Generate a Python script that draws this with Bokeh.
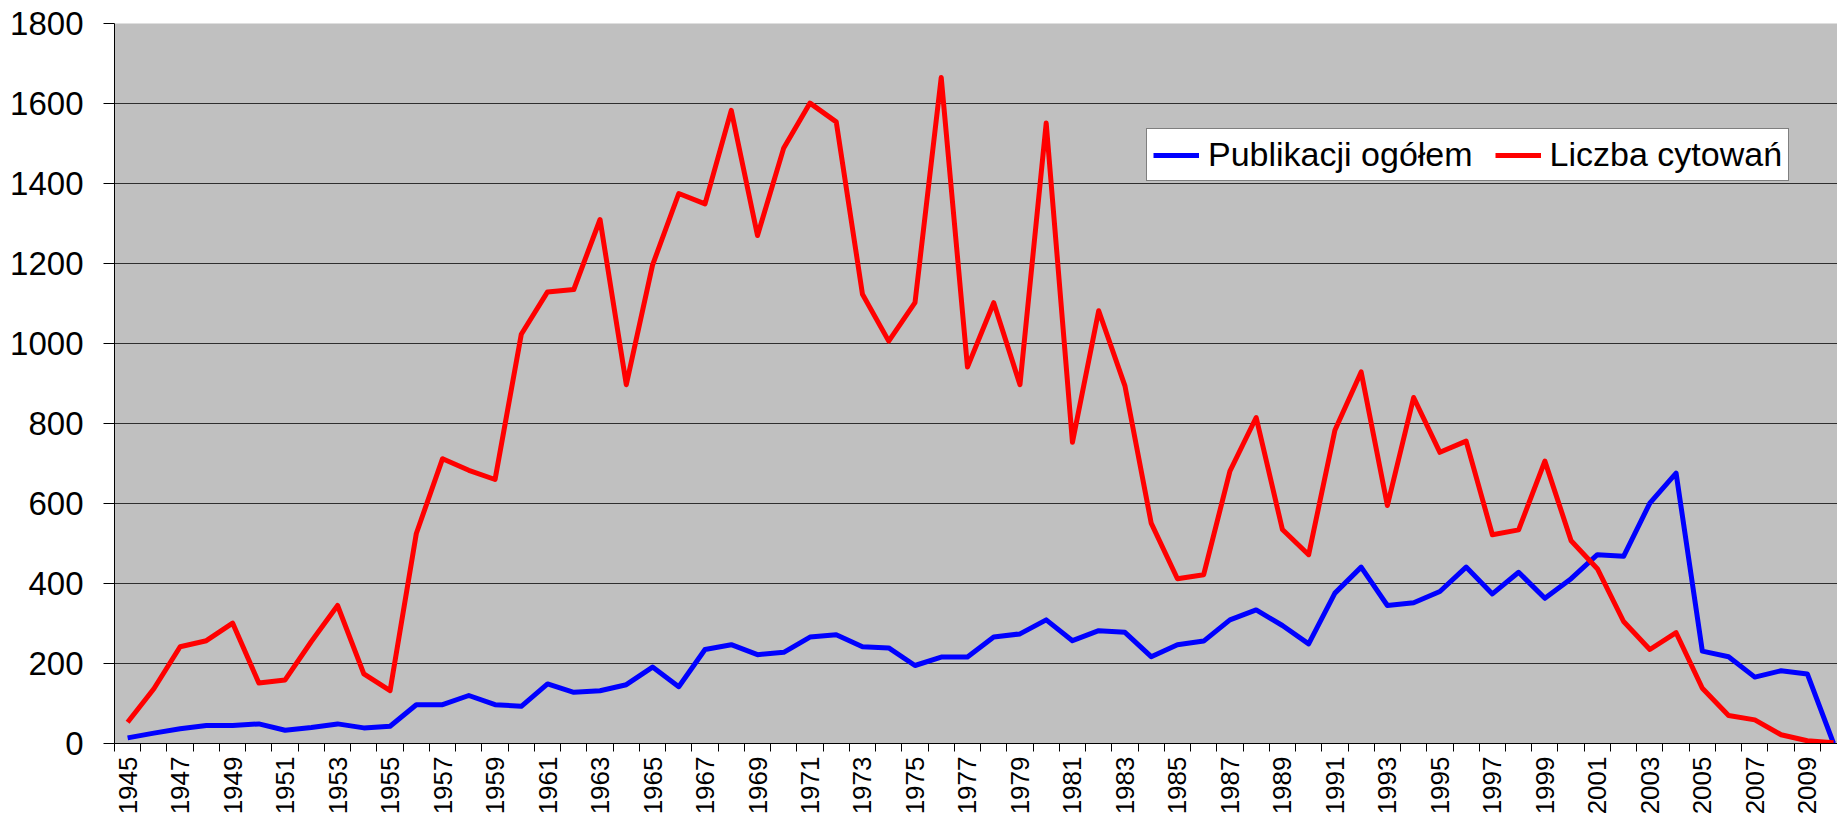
import math
from bokeh.plotting import figure
from bokeh.models import FixedTicker, Range1d, Legend, LegendItem
from bokeh.embed import file_html
from bokeh.resources import INLINE

years = list(range(1945, 2011))

publikacje = [14, 26, 37, 45, 45, 49, 33, 40, 49, 39, 43,
              97, 97, 120, 97, 93, 149, 128, 132, 147, 191,
              142, 235, 247, 222, 228, 266, 272, 242, 239, 195,
              216, 216, 266, 274, 309, 257, 282, 278, 217, 247,
              256, 309, 334, 295, 249, 376, 441, 345, 352, 380,
              441, 374, 428, 363, 412, 472, 468, 601, 676, 231,
              217, 166, 182, 174, 0]

cytowania = [53, 137, 242, 257, 301, 151, 159, 255, 345, 174, 132,
             525, 712, 683, 660, 1023, 1129, 1135, 1310, 897, 1196,
             1375, 1349, 1583, 1270, 1489, 1601, 1554, 1123, 1006, 1102,
             1665, 941, 1102, 897, 1551, 753, 1082, 894, 551, 412,
             422, 681, 815, 535, 472, 783, 929, 595, 865, 728,
             756, 522, 534, 706, 507, 437, 305, 235, 277, 138,
             70, 59, 22, 7, 2]

series_names = ["Publikacji ogółem", "Liczba cytowań"]
y_ticks = [0, 200, 400, 600, 800, 1000, 1200, 1400, 1600, 1800]
x_label_years = list(range(1945, 2010, 2))

FONT = "Liberation Sans"

p = figure(width=1837, height=817, output_backend="svg", toolbar_location=None,
           x_range=Range1d(1944.5, 2010.15), y_range=Range1d(0, 1800),
           min_border_left=114, min_border_right=0, min_border_top=23,
           min_border_bottom=74)
p.background_fill_color = "#C0C0C0"
p.border_fill_color = "white"
p.outline_line_color = None

r1 = p.line(years, publikacje, line_color="#0000FF", line_width=5, line_join="round")
r2 = p.line(years, cytowania, line_color="#FF0000", line_width=5, line_join="round")

# x axis
p.xaxis.ticker = FixedTicker(ticks=x_label_years,
                             minor_ticks=[y - 0.5 for y in years] + [years[-1] + 0.5])
p.xaxis.major_tick_out = 0
p.xaxis.major_tick_in = 0
p.xaxis.major_tick_line_color = None
p.xaxis.minor_tick_out = 8
p.xaxis.minor_tick_in = 0
p.xaxis.minor_tick_line_color = "black"
p.xaxis.axis_line_color = "black"
p.xaxis.major_label_orientation = math.pi / 2
p.xaxis.major_label_text_font = FONT
p.xaxis.major_label_text_font_size = "26px"
p.xaxis.major_label_text_color = "black"
p.xaxis.major_label_standoff = 5
p.xgrid.visible = False

# y axis
p.yaxis.ticker = FixedTicker(ticks=y_ticks, minor_ticks=[])
p.yaxis.major_tick_out = 11
p.yaxis.major_tick_in = 0
p.yaxis.major_tick_line_color = "black"
p.yaxis.minor_tick_line_color = None
p.yaxis.axis_line_color = "black"
p.yaxis.major_label_text_font = FONT
p.yaxis.major_label_text_font_size = "33px"
p.yaxis.major_label_text_color = "black"
p.yaxis.major_label_standoff = 20
p.ygrid.ticker = FixedTicker(ticks=y_ticks)
p.ygrid.grid_line_color = "#2e2e2e"
p.ygrid.grid_line_width = 1

legend = Legend(items=[LegendItem(label=series_names[0], renderers=[r1]),
                       LegendItem(label=series_names[1], renderers=[r2])],
                orientation="horizontal", location=(1032, 562),
                label_text_font=FONT, label_text_font_size="34px",
                label_text_color="black",
                glyph_width=46, glyph_height=20, label_standoff=9,
                spacing=22, padding=6, margin=0,
                border_line_color="black", border_line_width=1,
                background_fill_color="white", background_fill_alpha=1.0)
p.add_layout(legend)

open("out.html", "w").write(file_html(p, INLINE))
